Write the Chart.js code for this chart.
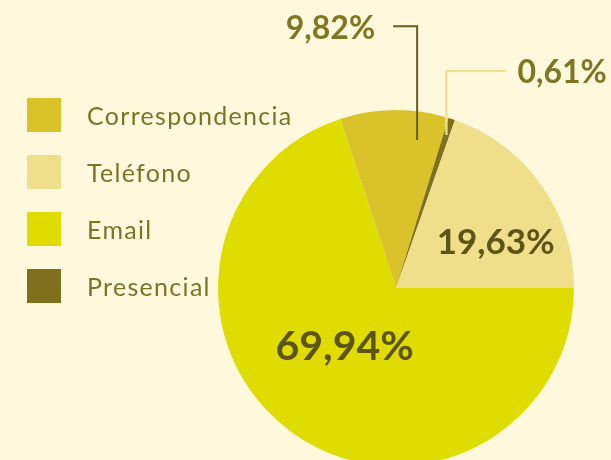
<!DOCTYPE html>
<html><head><meta charset="utf-8">
<script src="https://cdn.jsdelivr.net/npm/chart.js@4.4.1/dist/chart.umd.min.js"></script>
<style>
html,body{margin:0;padding:0;background:#FFF8DC;width:611px;height:460px;overflow:hidden}
#wrap{position:absolute;left:0;top:0;width:611px;height:480px}
#legend{position:absolute;left:27px;top:98px;margin:0;padding:0;list-style:none;font-family:Lato,"Open Sans",sans-serif;font-weight:400;font-size:25px;letter-spacing:1.3px;color:#7d7326}
#legend li{display:flex;align-items:center;height:34px;margin:0 0 23px 0;white-space:nowrap}
#legend .box{display:inline-block;width:34px;height:34px;margin-right:26px;flex:none}
</style></head>
<body>
<div id="wrap"><canvas id="c" width="611" height="480"></canvas></div>
<ul id="legend"></ul>
<script>
// ---- data ----
const categories = ['Correspondencia', 'Teléfono', 'Email', 'Presencial'];
const shares = [9.82, 19.63, 69.94, 0.61];
const valueLabels = ['9,82%', '19,63%', '69,94%', '0,61%'];
const colors = ['#D9C22A', '#EFDF8B', '#DEDC00', '#7F701E'];
// slice drawing order, clockwise from 3 o'clock
const pieOrder = [2, 0, 3, 1];

// ---- label styling (per category index) ----
const labelCfg = {
  0: {type: 'leader', f: 0.745, r: 0.84, elbowR: 1.47, dir: -1, hLen: 24, gap: 18, font: 'bold 32px Lato', color: '#807521', line: '#6B5C1C', lw: 2},
  1: {type: 'inside', f: 0.655, r: 0.615, font: 'bold 35px Lato', color: '#5F5418'},
  2: {type: 'inside', f: 0.52, r: 0.44, font: 'bold 41px Lato', color: '#5F5418'},
  3: {type: 'leader', f: 0.5, r: 0.905, elbowR: 1.22, dir: 1, hLen: 59, gap: 12, font: 'bold 32px Lato', color: '#807521', line: '#F0E08E', lw: 2.3}
};

// legend (HTML, built from the arrays)
const ul = document.getElementById('legend');
categories.forEach((c, i) => {
  const li = document.createElement('li');
  const b = document.createElement('span');
  b.className = 'box';
  b.style.background = colors[i];
  li.appendChild(b);
  li.appendChild(document.createTextNode(c));
  ul.appendChild(li);
});

const labelPlugin = {
  id: 'valueLabels',
  afterDatasetsDraw(chart) {
    const ctx = chart.ctx;
    const meta = chart.getDatasetMeta(0);
    meta.data.forEach((arc, k) => {
      const ci = pieOrder[k];
      const cfg = labelCfg[ci];
      const p = arc.getProps(['x', 'y', 'startAngle', 'endAngle', 'outerRadius'], true);
      const a = p.startAngle + cfg.f * (p.endAngle - p.startAngle);
      const px = p.x + Math.cos(a) * p.outerRadius * cfg.r;
      const py = p.y + Math.sin(a) * p.outerRadius * cfg.r;
      ctx.save();
      ctx.font = cfg.font;
      ctx.fillStyle = cfg.color;
      ctx.textBaseline = 'middle';
      if (cfg.type === 'inside') {
        ctx.textAlign = 'center';
        ctx.fillText(valueLabels[ci], px, py);
      } else {
        const ey = p.y - p.outerRadius * cfg.elbowR;
        const ex = px + cfg.dir * cfg.hLen;
        ctx.strokeStyle = cfg.line;
        ctx.lineWidth = cfg.lw;
        ctx.lineJoin = 'miter';
        ctx.beginPath();
        ctx.moveTo(px, py);
        ctx.lineTo(px, ey);
        ctx.lineTo(ex, ey);
        ctx.stroke();
        ctx.textAlign = cfg.dir < 0 ? 'right' : 'left';
        ctx.fillText(valueLabels[ci], ex + cfg.dir * cfg.gap, ey + 2);
      }
      ctx.restore();
    });
  }
};

new Chart(document.getElementById('c'), {
  type: 'pie',
  data: {
    labels: pieOrder.map(i => categories[i]),
    datasets: [{
      data: pieOrder.map(i => shares[i]),
      backgroundColor: pieOrder.map(i => colors[i]),
      borderWidth: 0
    }]
  },
  options: {
    responsive: false,
    animation: false,
    rotation: 90,
    layout: {padding: {left: 218, right: 37, top: 110, bottom: 14}},
    plugins: {legend: {display: false}, tooltip: {enabled: false}}
  },
  plugins: [labelPlugin]
});
</script>
</body></html>
